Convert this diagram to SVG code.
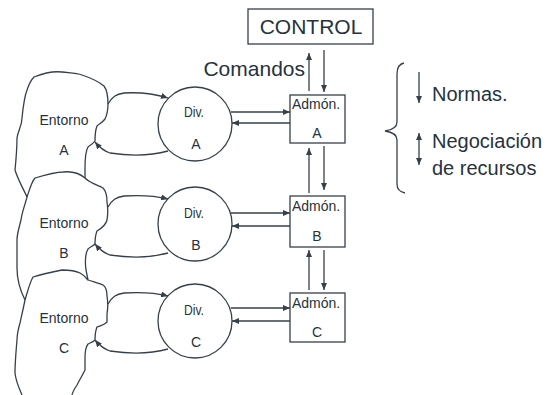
<svg xmlns="http://www.w3.org/2000/svg" width="557" height="395" viewBox="0 0 557 395">
<style>
  .ln{fill:none;stroke:#36404a;stroke-width:1.3}
  .bx{fill:#fff;stroke:#36404a;stroke-width:1.3}
  .t{font-family:"Liberation Sans",Arial,sans-serif;fill:#27323c}
  .big{font-size:20px}
  .sm{font-size:14px}
  .mid{text-anchor:middle}
</style>
<defs>
  <marker id="ah" markerWidth="7" markerHeight="6" refX="7" refY="3" orient="auto" markerUnits="userSpaceOnUse">
    <path d="M0,0 L7,3 L0,6 z" fill="#36404a"/>
  </marker>
  <marker id="ahs" markerWidth="7" markerHeight="6" refX="0" refY="3" orient="auto" markerUnits="userSpaceOnUse">
    <path d="M7,0 L0,3 L7,6 z" fill="#36404a"/>
  </marker>
</defs>

<g id="control">
  <rect class="bx" x="248" y="9" width="125" height="35"/>
  <text class="t mid" x="311" y="34" style="font-size:21px">CONTROL</text>
</g>

<g id="entorno-a">
  <path class="ln" d="M15,170 C16,160 17,148 17,138 C18,130 22,126 22,118 C23,108 24,98 27,90 C29,84 31,80 34,77 C44,73 54,71 62,72 C70,73 76,73 82,75 C91,78 99,82 104,86 C107,90 108,97 108,104 C108,110 107,115 105,119 C102,123 99,124 97,126 C95,131 95,137 95,141 C93,144 90,145 88,147 C85,152 85,160 85,168 L85,178"/>
  <text class="t sm mid" x="64" y="125">Entorno</text>
  <text class="t sm mid" x="64" y="155">A</text>
</g>

<g id="entorno-b">
  <path class="ln" d="M27,197 C30,188 32,181 35,178 C45,175 55,172 63,172 C72,171 79,173 85,178 C90,183 97,185 103,188 C106,191 107,196 107,202 C108,208 108,214 107,220 C106,225 102,228 97,231 C95,236 95,240 95,244 C93,246 90,247 88,249 C85,254 85,262 86,270 L88,280"/>
  <path class="ln" d="M15,170 C18,180 24,190 27,197 C25,205 22,212 21,220 C19,228 17,234 17,240 L17,268 C17,280 21,292 25,300"/>
  <text class="t sm mid" x="64" y="228">Entorno</text>
  <text class="t sm mid" x="64" y="258">B</text>
</g>

<g id="entorno-c">
  <path class="ln" d="M25,300 C28,290 30,282 33,277 C42,274 52,272 62,270 C70,270 76,271 80,273 C84,275 86,278 88,280 C94,282 99,283 103,285 C106,287 107,291 107,296 C108,302 108,308 107,314 L107,322 C104,325 100,326 97,327 C95,332 95,337 95,340 C93,342 90,343 88,344 C85,348 85,353 85,358 L85,370 C82,376 79,381 77,385 C75,388 73,391 72,395"/>
  <path class="ln" d="M25,300 C23,310 21,318 20,323 C18,330 17,334 17,340 C16,352 15,362 15,373 C16,382 19,388 22,395"/>
  <text class="t sm mid" x="64" y="323">Entorno</text>
  <text class="t sm mid" x="64" y="353">C</text>
</g>

<g id="div-a">
  <circle class="bx" cx="195" cy="124" r="37"/>
  <text class="t mid" x="194" y="117" style="font-size:14px" textLength="20" lengthAdjust="spacingAndGlyphs">Div.</text>
  <text class="t mid" x="196" y="149" style="font-size:14px">A</text>
</g>
<g id="div-b">
  <circle class="bx" cx="195" cy="224" r="37"/>
  <text class="t mid" x="194" y="218" style="font-size:14px" textLength="20" lengthAdjust="spacingAndGlyphs">Div.</text>
  <text class="t mid" x="196" y="250" style="font-size:14px">B</text>
</g>
<g id="div-c">
  <circle class="bx" cx="195" cy="321" r="37"/>
  <text class="t mid" x="194" y="315" style="font-size:14px" textLength="20" lengthAdjust="spacingAndGlyphs">Div.</text>
  <text class="t mid" x="196" y="347" style="font-size:14px">C</text>
</g>

<g id="admon-a">
  <rect class="bx" x="290" y="95" width="55" height="48"/>
  <text class="t sm" x="292" y="109">Admón.</text>
  <text class="t sm mid" x="317" y="138">A</text>
</g>
<g id="admon-b">
  <rect class="bx" x="290" y="196" width="55" height="51"/>
  <text class="t sm" x="292" y="211">Admón.</text>
  <text class="t sm mid" x="317" y="241">B</text>
</g>
<g id="admon-c">
  <rect class="bx" x="290" y="293" width="55" height="49"/>
  <text class="t sm" x="292" y="308">Admón.</text>
  <text class="t sm mid" x="317" y="337">C</text>
</g>

<g id="connectors">
  <line class="ln" x1="309" y1="91" x2="309" y2="53" marker-end="url(#ah)"/>
  <line class="ln" x1="324" y1="50" x2="324" y2="92" marker-end="url(#ah)"/>
  <line class="ln" x1="309" y1="193" x2="309" y2="148" marker-end="url(#ah)"/>
  <line class="ln" x1="324" y1="146" x2="324" y2="190" marker-end="url(#ah)"/>
  <line class="ln" x1="309" y1="290" x2="309" y2="250" marker-end="url(#ah)"/>
  <line class="ln" x1="324" y1="250" x2="324" y2="290" marker-end="url(#ah)"/>
  <line class="ln" x1="231" y1="112" x2="290" y2="112" marker-end="url(#ah)"/>
  <line class="ln" x1="290" y1="123" x2="232" y2="123" marker-end="url(#ah)"/>
  <line class="ln" x1="231" y1="213" x2="290" y2="213" marker-end="url(#ah)"/>
  <line class="ln" x1="290" y1="226" x2="232" y2="226" marker-end="url(#ah)"/>
  <line class="ln" x1="231" y1="308" x2="290" y2="308" marker-end="url(#ah)"/>
  <line class="ln" x1="290" y1="321" x2="232" y2="321" marker-end="url(#ah)"/>
  <path class="ln" d="M108,104 C112,97 116,94 124,93 C140,92 152,93 168,98" marker-end="url(#ah)"/>
  <path class="ln" d="M168,151 C150,156 130,156 110,153 C104,151 100,148 95,142" marker-end="url(#ah)"/>
  <path class="ln" d="M108,207 C112,200 116,197 124,196 C140,195 152,195 168,199" marker-end="url(#ah)"/>
  <path class="ln" d="M168,253 C150,258 130,258 110,255 C104,253 100,250 95,244" marker-end="url(#ah)"/>
  <path class="ln" d="M108,304 C112,297 116,294 124,293 C140,292 152,292 168,296" marker-end="url(#ah)"/>
  <path class="ln" d="M168,349 C150,354 130,354 110,351 C104,349 100,346 95,340" marker-end="url(#ah)"/>
</g>

<g id="comandos">
  <text class="t" x="305" y="76" text-anchor="end" style="font-size:21px">Comandos</text>
</g>

<g id="legend">
  <path class="ln" d="M404,63 C399,64 397,68 397,74 L397,122 C397,127 392,130 385,131 C392,132 397,135 397,140 L397,184 C397,189 400,192 405,193"/>
  <line class="ln" x1="419" y1="72" x2="419" y2="103" marker-end="url(#ah)"/>
  <line class="ln" x1="419" y1="133" x2="419" y2="165" marker-start="url(#ahs)" marker-end="url(#ah)"/>
  <text class="t big" x="432" y="101">Normas.</text>
  <text class="t big" x="432" y="148">Negociación</text>
  <text class="t big" x="432" y="175">de recursos</text>
</g>
</svg>
